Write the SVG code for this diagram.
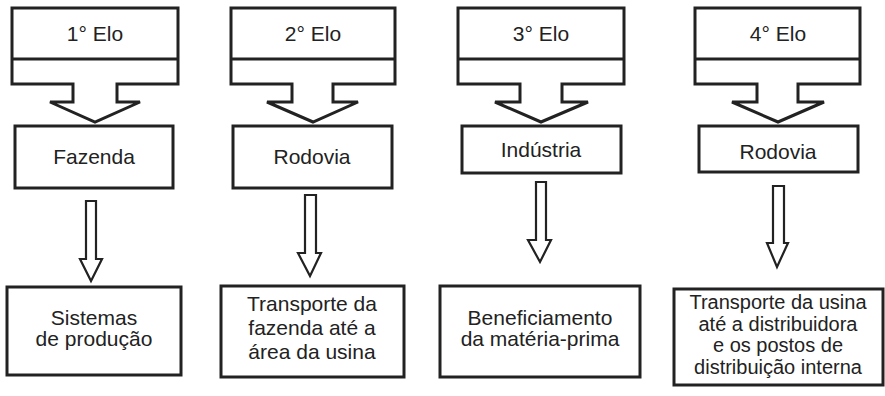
<svg xmlns="http://www.w3.org/2000/svg" width="885" height="396" viewBox="0 0 885 396">
<style>
.big{fill:#fff;stroke:#222;stroke-width:3;stroke-linejoin:miter}
.box{fill:#fff;stroke:#222;stroke-width:3}
.sa{fill:#fff;stroke:#222;stroke-width:2.2;stroke-linejoin:miter}
text{font-family:"Liberation Sans",Arial,sans-serif;fill:#222;text-anchor:middle;font-size:21px}
.t20{font-size:20px}
</style>
<g id="elo1">
<path class="big" d="M12,8 H178 V84 H117 V102 H140 L95,122 L50,102 H73 V84 H12 Z"/>
<line class="big" x1="12" y1="59" x2="178" y2="59"/>
<text x="95" y="41">1° Elo</text>
</g>
<g id="elo2">
<path class="big" d="M231,8 H395 V84 H333 V102 H358 L313,122 L267,102 H292 V84 H231 Z"/>
<line class="big" x1="231" y1="59" x2="395" y2="59"/>
<text x="313" y="41">2° Elo</text>
</g>
<g id="elo3">
<path class="big" d="M458,8 H624 V84 H562 V102 H588 L541,122 L495,102 H520 V84 H458 Z"/>
<line class="big" x1="458" y1="59" x2="624" y2="59"/>
<text x="541" y="41">3° Elo</text>
</g>
<g id="elo4">
<path class="big" d="M695,8 H860 V84 H798 V102 H824 L778,122 L732,102 H757 V84 H695 Z"/>
<line class="big" x1="695" y1="59" x2="860" y2="59"/>
<text x="778" y="41">4° Elo</text>
</g>
<g id="fazenda">
<rect class="box" x="15" y="126" width="158" height="62"/>
<text x="94" y="164">Fazenda</text>
</g>
<g id="rodovia1">
<rect class="box" x="233" y="126" width="159" height="62"/>
<text x="312" y="164">Rodovia</text>
</g>
<g id="industria">
<rect class="box" x="462" y="126" width="159" height="47"/>
<text x="541" y="157">Indústria</text>
</g>
<g id="rodovia2">
<rect class="box" x="699" y="126" width="159" height="46"/>
<text x="778" y="159">Rodovia</text>
</g>
<g id="sistemas">
<rect class="box" x="7" y="287" width="174" height="88"/>
<text x="94" y="325">Sistemas</text>
<text x="94" y="346">de produção</text>
</g>
<g id="transporte1">
<rect class="box" x="221" y="286" width="183" height="91"/>
<text x="312" y="311">Transporte da</text>
<text x="312" y="335">fazenda até a</text>
<text x="312" y="359">área da usina</text>
</g>
<g id="beneficiamento">
<rect class="box" x="440" y="286" width="200" height="91"/>
<text x="540" y="325">Beneficiamento</text>
<text x="540" y="346">da matéria-prima</text>
</g>
<g id="transporte2">
<rect class="box" x="674" y="289" width="209" height="96"/>
<text class="t20" x="778" y="309">Transporte da usina</text>
<text class="t20" x="778" y="330.5">até a distribuidora</text>
<text class="t20" x="778" y="352">e os postos de</text>
<text class="t20" x="778" y="373.5">distribuição interna</text>
</g>
<g id="connectors">
<path class="sa" d="M86,201 H96 V259 H102 L91,281 L80,259 H86 Z"/>
<path class="sa" d="M305,195 H316 V253 H321 L310,276 L298,253 H305 Z"/>
<path class="sa" d="M536,182 H546 V240 H551 L540,262 L528,240 H536 Z"/>
<path class="sa" d="M773,186 H784 V243 H788 L777,267 L767,243 H773 Z"/>
</g>
</svg>
